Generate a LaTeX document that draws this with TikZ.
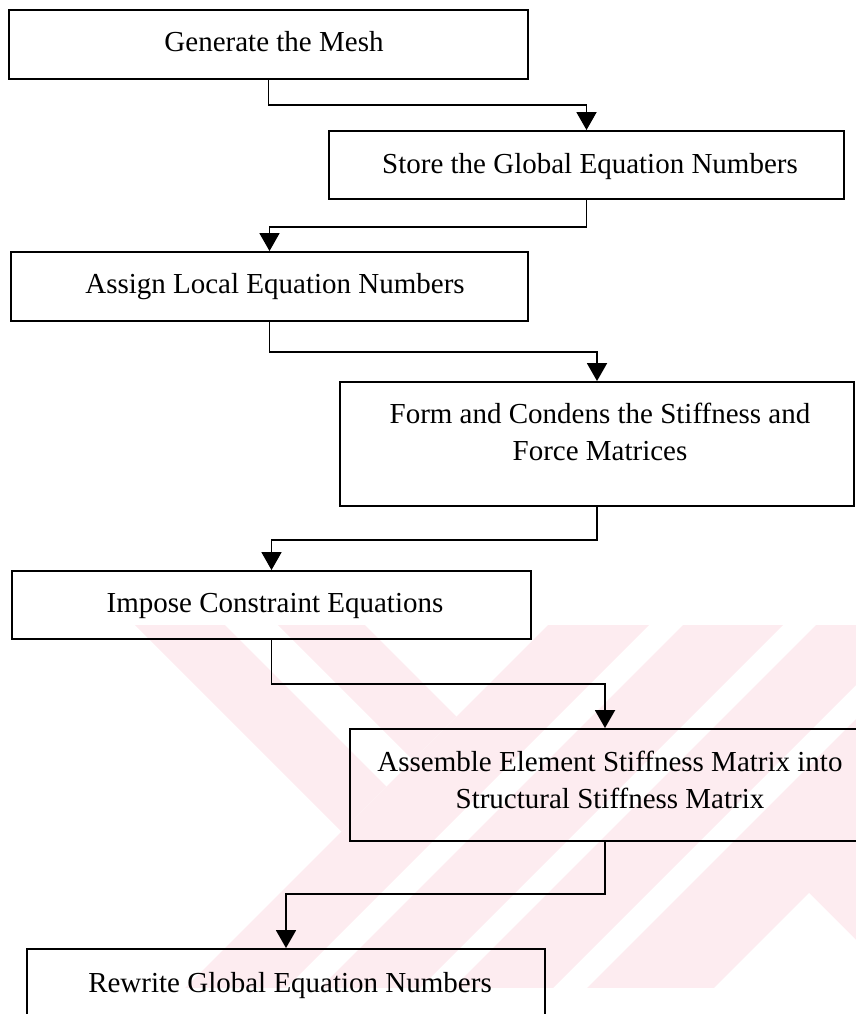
\documentclass[tikz,border=0pt]{standalone}
\usepackage{fontspec}
\setmainfont{Liberation Serif}
\usetikzlibrary{arrows.meta}
\definecolor{wmpink}{RGB}{253,236,240}
\begin{document}
\begin{tikzpicture}[x=1pt,y=-1pt,
  stepbox/.style={draw=black,line width=1.9pt,rectangle,inner sep=0pt},
  txt/.style={anchor=base,inner sep=0pt,font=\fontsize{29}{36}\selectfont},
  flow/.style={draw=black,line width=1.9pt,-{Triangle[width=20pt,length=18pt]}}]
\useasboundingbox (0,0) rectangle (856,1014);

% faint striped background mark
\begin{scope}
  \clip (0,625) rectangle (856,987);
  \fill[wmpink] (135,625) -- (225,625) -- (386.5,786.5) -- (341.5,831.5) -- cycle;
  \fill[wmpink] (278,625) -- (365,625) -- (456.5,716.5) -- (413,760) -- cycle;
  \fill[wmpink] (573,600) -- (674,600) -- (274,1000) -- (173,1000) -- cycle;
  \fill[wmpink] (708,600) -- (808,600) -- (408,1000) -- (308,1000) -- cycle;
  \fill[wmpink] (841,600) -- (941,600) -- (541,1000) -- (441,1000) -- cycle;
  \fill[wmpink] (975,600) -- (1200,600) -- (1200,1000) -- (575,1000) -- cycle;
  \fill[white] (809,893) -- (609,1093) -- (1009,1093) -- cycle;
\end{scope}

\clip (0,0) rectangle (856,1014);

% process boxes
\node[stepbox,minimum width=519pt,minimum height=69pt]  (b1) at (268.5,44.5) {};
\node[stepbox,minimum width=515pt,minimum height=68pt]  (b2) at (586.5,165) {};
\node[stepbox,minimum width=517pt,minimum height=69pt]  (b3) at (269.5,286.5) {};
\node[stepbox,minimum width=514pt,minimum height=124pt] (b4) at (597,444) {};
\node[stepbox,minimum width=519pt,minimum height=68pt]  (b5) at (271.5,605) {};
\node[stepbox,minimum width=510pt,minimum height=112pt] (b6) at (605,785) {};
\node[stepbox,minimum width=518pt,minimum height=68pt]  (b7) at (286,983) {};

% box texts
\node[txt] (t1)  at (274,52)  {Generate the Mesh};
\node[txt] (t2)  at (590,173) {Store the Global Equation Numbers};
\node[txt] (t3)  at (275,293) {Assign Local Equation Numbers};
\node[txt] (t4a) at (600,423) {Form and Condens the Stiffness and};
\node[txt] (t4b) at (600,460) {Force Matrices};
\node[txt] (t5)  at (275,612) {Impose Constraint Equations};
\node[txt] (t6a) at (610,771) {Assemble Element Stiffness Matrix into};
\node[txt] (t6b) at (610,808) {Structural Stiffness Matrix};
\node[txt] (t7)  at (290,992) {Rewrite Global Equation Numbers};

% connectors
\draw[flow] (b1.south) -- ++(0,25) -| (b2.north);
\draw[flow] (b2.south) -- ++(0,27) -| (b3.north);
\draw[flow] (b3.south) -- ++(0,30) -| (b4.north);
\draw[flow] (b4.south) -- ++(0,33) -| (b5.north);
\draw[flow] (b5.south) -- ++(0,44) -| (b6.north);
\draw[flow] (b6.south) -- ++(0,52) -| (b7.north);
\end{tikzpicture}
\end{document}
